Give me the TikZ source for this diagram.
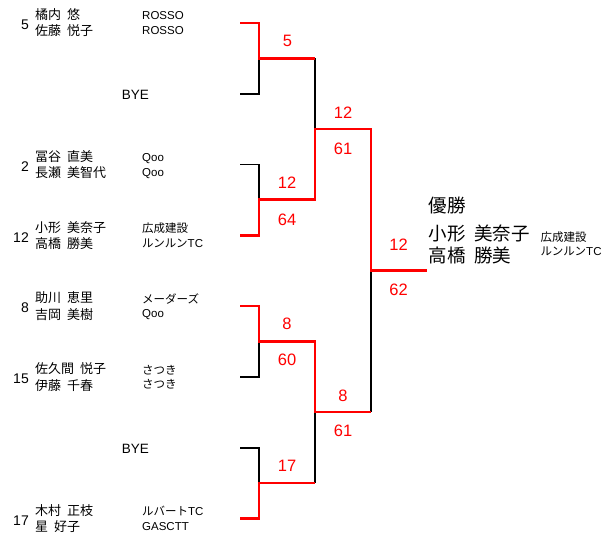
\documentclass[tikz,border=0pt]{standalone}
\usepackage{fontspec}
\setmainfont{Liberation Sans}
\newfontfamily\jp{Noto Sans CJK JP}
\newcommand{\jsp}{\hspace{0.45em}}
\begin{document}
\begin{tikzpicture}[x=1pt,y=-1pt,
  nm/.style={anchor=base west, inner sep=0, font=\jp\fontsize{13}{13}\selectfont},
  sd/.style={anchor=base east, inner sep=0, font=\fontsize{14}{14}\selectfont},
  cl/.style={anchor=base west, inner sep=0, font=\fontsize{11.5}{11.5}\selectfont},
  bye/.style={anchor=base west, inner sep=0, font=\fontsize{13.5}{13.5}\selectfont},
  sc/.style={anchor=base, inner sep=0, text=red, font=\fontsize{16.5}{16.5}\selectfont},
  win/.style={anchor=base west, inner sep=0, font=\jp\fontsize{18.5}{18.5}\selectfont},
  lose/.style={line width=1.6pt, black},
  wline/.style={line width=2.5pt, red},
]
\useasboundingbox (0,0) rectangle (608,535);

% entry coordinates
\coordinate (e1) at (240,23);    \coordinate (j1) at (259,23);
\coordinate (e2) at (240,94);    \coordinate (j2) at (259,94);
\coordinate (e3) at (240,164.5); \coordinate (j3) at (259,164.5);
\coordinate (e4) at (240,235.5); \coordinate (j4) at (259,235.5);
\coordinate (e5) at (240,306);   \coordinate (j5) at (259,306);
\coordinate (e6) at (240,377);   \coordinate (j6) at (259,377);
\coordinate (e7) at (240,448);   \coordinate (j7) at (259,448);
\coordinate (e8) at (240,518.5); \coordinate (j8) at (259,518.5);
% round 1 mids
\coordinate (m1) at (259,58.5);  \coordinate (r1) at (315,58.5);
\coordinate (m2) at (259,199.5); \coordinate (r2) at (315,199.5);
\coordinate (m3) at (259,341.5); \coordinate (r3) at (315,341.5);
\coordinate (m4) at (259,483);   \coordinate (r4) at (315,483);
% semis
\coordinate (s1) at (315,129);   \coordinate (t1) at (371,129);
\coordinate (s2) at (315,412);   \coordinate (t2) at (371,412);
% final
\coordinate (f) at (371,270.5);  \coordinate (fw) at (427,270.5);

% losing lines
\draw[lose] (e2) -- (j2) -- (m1);
\draw[lose] (e3) -- (j3) -- (m2);
\draw[lose] (e6) -- (j6) -- (m3);
\draw[lose] (e7) -- (j7) -- (m4);
\draw[lose] (r1) -- (s1);
\draw[lose] (r4) -- (s2);
\draw[lose] (f) -- (t2);

% winning lines
\draw[wline] (e1) -- (j1) -- (m1) -- (r1);
\draw[wline] (e4) -- (j4) -- (m2) -- (r2) -- (s1) -- (t1) -- (f) -- (fw);
\draw[wline] (e5) -- (j5) -- (m3) -- (r3) -- (s2) -- (t2);
\draw[wline] (e8) -- (j8) -- (m4) -- (r4);

% players
\node[sd] (sd1) at (29,29.5) {5};
\node[nm] (n1a) at (35,19.5) {橘内\jsp 悠};
\node[nm] (n1b) at (35,36) {佐藤\jsp 悦子};
\node[cl] (c1a) at (142,20) {ROSSO};
\node[cl] (c1b) at (142,34.5) {ROSSO};

\node[bye] (bye1) at (121.7,99.3) {BYE};

\node[sd] (sd3) at (29,171) {2};
\node[nm] (n3a) at (35,161) {冨谷\jsp 直美};
\node[nm] (n3b) at (35,177.5) {長瀬\jsp 美智代};
\node[cl] (c3a) at (142,161.5) {Qoo};
\node[cl] (c3b) at (142,176) {Qoo};

\node[sd] (sd4) at (29,242) {12};
\node[nm] (n4a) at (35,232) {小形\jsp 美奈子};
\node[nm] (n4b) at (35,248.5) {高橋\jsp 勝美};
\node[cl] (c4a) at (142,232.5) {\jp 広成建設};
\node[cl] (c4b) at (142,247) {{\jp ルンルン}TC};

\node[sd] (sd5) at (29,312.5) {8};
\node[nm] (n5a) at (35,302.5) {助川\jsp 恵里};
\node[nm] (n5b) at (35,319) {吉岡\jsp 美樹};
\node[cl] (c5a) at (142,303) {\jp メーダーズ};
\node[cl] (c5b) at (142,317.5) {Qoo};

\node[sd] (sd6) at (29,383.5) {15};
\node[nm] (n6a) at (35,373.5) {佐久間\jsp 悦子};
\node[nm] (n6b) at (35,390) {伊藤\jsp 千春};
\node[cl] (c6a) at (142,374) {\jp さつき};
\node[cl] (c6b) at (142,388.5) {\jp さつき};

\node[bye] (bye2) at (121.7,453.3) {BYE};

\node[sd] (sd8) at (29,525) {17};
\node[nm] (n8a) at (35,515) {木村\jsp 正枝};
\node[nm] (n8b) at (35,531.5) {星\jsp 好子};
\node[cl] (c8a) at (142,515.5) {{\jp ルバート}TC};
\node[cl] (c8b) at (142,530) {GASCTT};

% scores
\node[sc] (sa) at (287.5,46.9) {5};
\node[sc] (sb) at (287,188.9) {12};
\node[sc] (sbb) at (287,225.4) {64};
\node[sc] (sc1) at (287,329.9) {8};
\node[sc] (scc) at (287,365.9) {60};
\node[sc] (sdd) at (287,471.9) {17};
\node[sc] (se) at (343,118.9) {12};
\node[sc] (see) at (343,154.4) {61};
\node[sc] (sf) at (343,401.4) {8};
\node[sc] (sff) at (343,436.4) {61};
\node[sc] (sg) at (398.5,250.9) {12};
\node[sc] (sgg) at (398.5,295.9) {62};

% champion
\node[win] (w0) at (428.5,212) {優勝};
\node[win] (w1) at (428.5,240) {小形\jsp 美奈子};
\node[win] (w2) at (428.5,262) {高橋\jsp 勝美};
\node[cl] (wc1) at (540.5,241.5) {\jp 広成建設};
\node[cl] (wc2) at (540.5,255.5) {{\jp ルンルン}TC};
\end{tikzpicture}
\end{document}
